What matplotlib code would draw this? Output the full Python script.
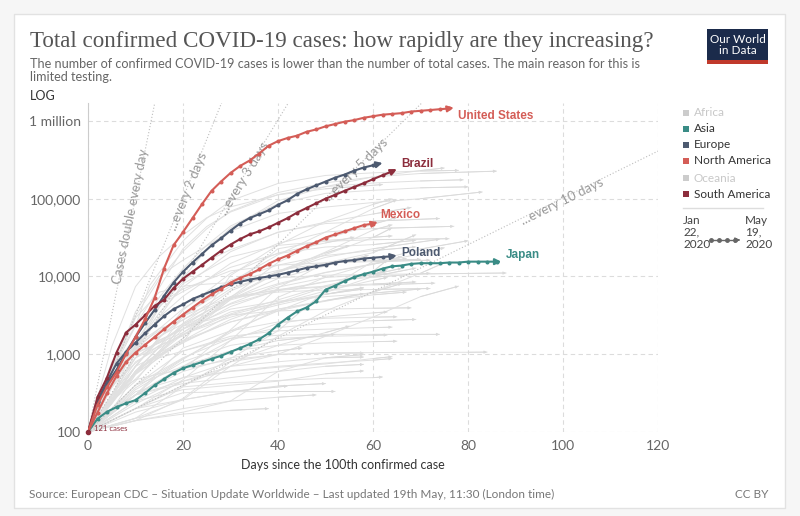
import numpy as np
import matplotlib
matplotlib.use("Agg")
import matplotlib.pyplot as plt
from matplotlib.patches import Rectangle
from matplotlib.lines import Line2D
from matplotlib.ticker import NullLocator

plt.rcParams['font.family'] = ['Lato', 'DejaVu Sans']

# --- highlighted countries (days since 100th case, confirmed cases) ---
us_days = list(range(0, 77, 2)) + [77]
us_cases = [100, 224, 380, 589, 1000, 1660, 2820, 5250, 12600, 25100, 37200, 56200,
            85100, 126000, 166000, 214000, 263000, 309000, 380000, 479000, 550000,
            603000, 646000, 724000, 776000, 851000, 912000, 977000, 1023000, 1096000,
            1148000, 1202000, 1230000, 1259000, 1318000, 1349000, 1380000, 1413000,
            1445000, 1479000]

brazil_days = list(range(0, 65, 2)) + [65]
brazil_cases = [100, 282, 501, 1050, 1900, 2400, 3160, 4170, 5010, 7080, 9330, 11500,
                14100, 17400, 21400, 25700, 30200, 34700, 38000, 42700, 49000, 56200,
                66100, 75900, 87100, 100000, 112000, 126000, 141000, 158000, 178000,
                200000, 224000, 240000]

russia_days = list(range(0, 63, 2))
russia_cases = [100, 240, 417, 631, 1050, 1660, 2510, 3720, 5620, 8320, 11500, 15100,
                19500, 25100, 30900, 38900, 47900, 56200, 63100, 70800, 83200, 95500,
                115000, 132000, 148000, 166000, 186000, 204000, 229000, 251000, 269000,
                288000]

mexico_days = list(range(0, 61, 2)) + [61]
mexico_cases = [100, 178, 316, 525, 794, 1050, 1320, 1660, 2090, 2630, 3240, 3980, 4900,
                5890, 6920, 8320, 9550, 10700, 12300, 14500, 16600, 18600, 21400, 24500,
                27500, 31600, 34700, 38000, 41700, 45700, 47900, 50100]

poland_days = list(range(0, 65, 2)) + [65]
poland_cases = [100, 251, 447, 759, 1070, 1410, 1860, 2400, 3090, 3800, 4370, 5130, 5750,
                6460, 7240, 7940, 8510, 9120, 9550, 10000, 10500, 11200, 12000, 12900,
                13500, 14100, 15100, 15800, 16200, 17000, 17400, 17800, 18200, 18600]

japan_days = list(range(0, 87, 2)) + [87]
japan_cases = [100, 148, 182, 209, 234, 257, 316, 398, 479, 575, 661, 724, 794, 871, 955,
               1070, 1200, 1350, 1550, 1860, 2400, 2950, 3550, 3980, 4790, 6760, 7590,
               8710, 9770, 10700, 11500, 12600, 13500, 13800, 14500, 14800, 14800, 14800,
               15100, 15100, 15500, 15500, 15500, 15500, 15500]

# --- other countries (grey background lines) ---
grey_days = [
    [0, 5, 10, 15, 20, 25, 30, 40, 50, 60, 70, 86],
    [0, 5, 10, 13, 15, 20, 25, 30, 40, 50, 60, 70, 78],
    [0, 5, 10, 15, 20, 25, 30, 40, 50, 60, 70, 75],
    [0, 5, 10, 15, 20, 25, 30, 40, 50, 60, 70, 79],
    [0, 5, 10, 15, 20, 25, 30, 40, 50, 60, 70, 80],
    [0, 5, 10, 15, 20, 25, 30, 40, 50, 60, 70, 83],
    [0, 5, 10, 15, 20, 25, 30, 40, 50, 62],
    [0, 5, 10, 15, 20, 25, 30, 40, 50, 60, 68],
    [0, 5, 10, 15, 20, 30, 40, 50, 60, 65],
    [0, 5, 10, 15, 20, 30, 40, 50, 60, 64],
    [0, 5, 10, 15, 20, 30, 40, 50, 60, 65],
    [0, 5, 10, 15, 20, 30, 40, 50, 60, 74],
    [0, 5, 10, 15, 20, 30, 40, 50, 60, 77],
    [0, 5, 10, 15, 20, 30, 40, 50, 60, 64],
    [0, 5, 10, 15, 20, 30, 40, 50, 60, 64],
    [0, 5, 10, 15, 20, 30, 40, 50, 60, 69],
    [0, 5, 10, 15, 20, 30, 40, 50, 60, 76],
    [0, 5, 10, 15, 20, 30, 40, 50, 60, 64],
    [0, 5, 10, 15, 20, 30, 40, 50, 60, 74],
    [0, 5, 10, 15, 20, 30, 40, 50, 60, 69],
    [0, 10, 20, 30, 40, 50, 60, 70, 80],
    [0, 5, 10, 15, 20, 25, 30, 40, 50, 60, 70, 88],
    [0, 5, 10, 15, 20, 30, 40, 50, 60, 69],
    [0, 5, 10, 15, 20, 30, 40, 50, 60, 70],
    [0, 5, 10, 15, 20, 30, 40, 50, 60, 72],
    [0, 5, 10, 15, 20, 30, 40, 50, 60, 67],
    [0, 5, 10, 15, 20, 30, 40, 50, 60, 72],
    [0, 5, 10, 15, 20, 30, 40, 50, 60, 73],
    [0, 5, 10, 15, 20, 30, 40, 50, 60, 69],
    [0, 5, 10, 15, 20, 30, 40, 50, 60, 72],
    [0, 5, 10, 15, 20, 30, 40, 50, 60, 70],
    [0, 5, 10, 15, 20, 30, 40, 50, 60, 66],
    [0, 5, 10, 15, 20, 30, 40, 50, 60, 66],
    [0, 5, 10, 15, 20, 30, 40, 50, 60, 69],
    [0, 5, 10, 15, 20, 30, 40, 50, 60, 66],
    [0, 5, 10, 15, 20, 30, 40, 50, 60, 74],
    [0, 10, 20, 30, 40, 50, 60, 69],
    [0, 10, 20, 30, 40, 50, 60, 67],
    [0, 10, 20, 30, 40, 50, 60, 68],
    [0, 10, 20, 30, 40, 50, 60, 65],
    [0, 10, 20, 30, 40, 50, 60, 65],
    [0, 10, 20, 30, 40, 50, 60, 63],
    [0, 10, 20, 30, 40, 50, 58],
    [0, 10, 20, 30, 40, 50, 60, 64],
    [0, 10, 20, 30, 40, 50, 58],
    [0, 10, 20, 30, 40, 50, 60, 62],
    [0, 10, 20, 30, 40, 50, 58],
    [0, 10, 20, 30, 40, 50, 58],
    [0, 10, 20, 30, 40, 50, 60, 64],
    [0, 10, 20, 30, 40, 50, 58],
    [0, 10, 20, 30, 40, 52],
    [0, 10, 20, 30, 40, 50, 60, 70, 78],
    [0, 10, 20, 30, 40, 50, 60, 70, 75],
    [0, 10, 20, 30, 40, 50, 60, 70, 75],
    [0, 10, 20, 30, 40, 50, 60, 63],
    [0, 10, 20, 30, 40, 50, 60, 63],
    [0, 10, 20, 30, 40, 50, 60, 63],
    [0, 10, 20, 30, 40, 50, 60, 63],
    [0, 10, 20, 30, 40, 50, 60, 64],
    [0, 10, 20, 30, 40, 50, 60, 63],
    [0, 10, 20, 30, 40, 50, 55],
    [0, 10, 20, 30, 40, 50, 56],
    [0, 10, 20, 30, 40, 50, 59],
    [0, 10, 20, 30, 40, 50, 58],
    [0, 10, 20, 30, 40, 50, 58],
    [0, 10, 20, 30, 40, 50, 58],
    [0, 10, 20, 30, 40, 50, 60, 70, 80, 84],
    [0, 10, 20, 30, 40, 50],
    [0, 10, 20, 30, 40, 48],
    [0, 10, 20, 30, 40, 45],
    [0, 10, 20, 30, 38],
    [0, 10, 20, 30, 40, 50, 55],
    [0, 10, 20, 30, 42],
    [0, 10, 20, 30, 40, 52],
]
grey_cases = [
    [100, 650, 3100, 9200, 21000, 41000, 69000, 120000, 160000, 190000, 211000, 226000],
    [100, 590, 2300, 7700, 11200, 28600, 56000, 94000, 157000, 199000, 215000, 227000, 231000],
    [100, 460, 1140, 3980, 9530, 22100, 41900, 93900, 143000, 191000, 230000, 248000],
    [100, 670, 2370, 7160, 22700, 43900, 67400, 113000, 143000, 159000, 169000, 175000],
    [100, 420, 1780, 5380, 12600, 25200, 44500, 86300, 117000, 128000, 138000, 142000],
    [100, 590, 3510, 10100, 16200, 24800, 38300, 64600, 78000, 89300, 100000, 122000],
    [100, 1250, 7400, 18100, 34100, 57000, 78500, 112000, 134000, 152000],
    [100, 420, 1430, 4040, 8530, 15800, 22100, 36800, 50000, 63500, 77000],
    [100, 230, 610, 1250, 3080, 8450, 19000, 37300, 74300, 96200],
    [100, 260, 480, 950, 1410, 10300, 25300, 51200, 84500, 99500],
    [100, 390, 770, 1300, 1720, 5370, 15100, 30300, 46900, 57300],
    [100, 400, 1240, 3400, 7280, 20800, 37200, 47900, 51400, 55600],
    [100, 380, 1140, 3000, 5560, 14700, 26600, 37200, 41300, 44100],
    [100, 430, 1140, 2140, 2740, 6930, 11300, 20600, 39500, 46100],
    [100, 650, 1180, 1700, 2450, 5230, 11200, 19100, 31700, 42100],
    [100, 300, 470, 560, 630, 2060, 7140, 14900, 20200, 34400],
    [100, 500, 1140, 3000, 8060, 17800, 25100, 28300, 29700, 30600],
    [100, 260, 1050, 1900, 3160, 7470, 22700, 29100, 31900, 33200],
    [100, 460, 1020, 1400, 2300, 5470, 11400, 17600, 22700, 30100],
    [100, 450, 1280, 4270, 6400, 13100, 19700, 23900, 25700, 29200],
    [100, 150, 385, 880, 2000, 6600, 15600, 22500, 28800],
    [100, 600, 2930, 6280, 7510, 7980, 8320, 9580, 10380, 10650, 10780, 11080],
    [100, 290, 1330, 2120, 3850, 8930, 14000, 18600, 21500, 24000],
    [100, 250, 700, 1650, 3030, 8430, 12000, 14900, 16100, 16600],
    [100, 660, 1650, 4470, 6900, 11800, 14000, 15000, 15500, 16200],
    [100, 260, 580, 1030, 2110, 5200, 8070, 11300, 14500, 17000],
    [100, 800, 1050, 1400, 1900, 4100, 6700, 8600, 9800, 11000],
    [100, 700, 1250, 2000, 3100, 5500, 6600, 7400, 7800, 8200],
    [100, 300, 700, 1650, 2800, 5300, 6800, 7500, 8000, 8500],
    [100, 250, 450, 1080, 2400, 5300, 6300, 6700, 6800, 7000],
    [100, 240, 700, 1520, 2100, 3800, 4800, 5500, 6100, 6900],
    [100, 190, 550, 1100, 2300, 4400, 6600, 8500, 10600, 12700],
    [100, 370, 900, 1500, 2100, 4500, 7800, 11200, 14300, 18000],
    [100, 200, 300, 540, 860, 2000, 3600, 6200, 10000, 12800],
    [100, 270, 590, 1050, 1450, 2600, 3800, 4800, 6300, 8100],
    [100, 250, 570, 900, 1100, 1600, 1750, 1800, 1800, 1800],
    [100, 400, 900, 1600, 2200, 2500, 2700, 2800],
    [100, 370, 880, 1900, 3800, 4900, 5800, 6300],
    [100, 900, 2300, 3200, 3600, 3800, 3900, 3950],
    [100, 300, 1200, 2000, 2600, 2900, 3000, 3030],
    [100, 300, 700, 1100, 1300, 1400, 1450, 1470],
    [100, 350, 800, 1300, 1600, 1700, 1750, 1770],
    [100, 300, 420, 500, 600, 700, 740],
    [100, 330, 500, 600, 680, 750, 880, 930],
    [100, 230, 450, 700, 800, 900, 920],
    [100, 200, 380, 430, 460, 490, 500, 510],
    [100, 250, 350, 400, 450, 560, 610],
    [100, 140, 180, 250, 600, 900, 990],
    [100, 300, 450, 610, 700, 770, 840, 880],
    [100, 300, 650, 850, 990, 1030, 1040],
    [100, 200, 320, 330, 332, 332],
    [100, 200, 400, 700, 1000, 1700, 3000, 5500, 7500],
    [100, 150, 260, 700, 1700, 3600, 6300, 11000, 15000],
    [100, 200, 470, 1500, 5400, 9800, 14700, 19600, 23400],
    [100, 800, 1800, 3500, 4500, 6500, 8900, 9700],
    [100, 900, 1800, 3300, 5000, 7600, 10600, 12300],
    [100, 700, 1400, 2800, 4600, 7300, 11600, 16300],
    [100, 600, 1900, 5000, 7300, 9700, 10600, 10800],
    [100, 400, 1100, 1700, 2000, 2100, 2200, 2230],
    [100, 300, 700, 1500, 2500, 3000, 3400, 3500],
    [100, 600, 2500, 6500, 11700, 20000, 25000],
    [100, 700, 3700, 11000, 20000, 27000, 32000],
    [100, 600, 1600, 5100, 9400, 13700, 18600],
    [100, 600, 1500, 2600, 3600, 4900, 6000],
    [100, 600, 1800, 3000, 4300, 5900, 7200],
    [100, 550, 1500, 3200, 4600, 5900, 6900],
    [100, 140, 270, 800, 1000, 1040, 1050, 1060, 1060, 1065],
    [100, 180, 260, 330, 390, 420],
    [100, 150, 200, 250, 280, 300],
    [100, 300, 600, 900, 1100, 1200],
    [100, 140, 170, 190, 200],
    [100, 250, 500, 800, 1300, 1900, 2300],
    [100, 200, 260, 330, 390],
    [100, 400, 700, 1100, 1500, 1800],
]

doubling_days = [1, 2, 3, 5, 10]
doubling_labels = ["Cases double every day", "...every 2 days", "...every 3 days",
                   "...every 5 days", "...every 10 days"]
doubling_label_pos = [(9.0, 59000), (21.0, 126000), (33.0, 182000), (56.4, 240000),
                      (99.8, 93000)]

legend_names = ["Africa", "Asia", "Europe", "North America", "Oceania", "South America"]
legend_active = [False, True, True, True, False, True]

RED = '#d45d57'
MAROON = '#8c2d3c'
SLATE = '#4d5a70'
TEAL = '#3a8c86'
legend_colors = ['#cccccc', TEAL, SLATE, RED, '#cccccc', MAROON]

W, H = 800, 516
fig = plt.figure(figsize=(W / 100, H / 100), dpi=100, facecolor='#f6f6f6')


def fx(px):
    return px / W


def fy(py):
    return 1 - py / H


# white card
fig.add_artist(Rectangle((fx(14), fy(508)), fx(771), (494) / H, transform=fig.transFigure,
                         facecolor='white', edgecolor='#e2e2e2', lw=1, zorder=0))

ax = fig.add_axes([fx(88), fy(432), fx(570), (432 - 103) / H])
ax.set_facecolor('none')
ax.set_yscale('log')
ax.set_xlim(0, 120)
ax.set_ylim(100, 1.7e6)
ax.set_yticks([100, 1e3, 1e4, 1e5, 1e6])
ax.set_yticklabels(['100', '1,000', '10,000', '100,000', '1 million'])
ax.yaxis.set_minor_locator(NullLocator())
ax.set_xticks([0, 20, 40, 60, 80, 100, 120])
ax.grid(True, ls=(0, (4, 3)), color='#dcdcdc', lw=0.8)
ax.set_axisbelow(True)
for s in ['top', 'right', 'bottom']:
    ax.spines[s].set_visible(False)
ax.spines['left'].set_color('#cccccc')
ax.tick_params(length=0, labelcolor='#666666', labelsize=10)
ax.tick_params(axis='y', pad=5)
ax.tick_params(axis='x', pad=6)

# grey lines
for d, c in zip(grey_days, grey_cases):
    ax.plot(d, c, color='#e0e0e0', lw=0.7, zorder=2)
    ax.annotate('', xy=(d[-1], c[-1]), xytext=(d[-2], c[-2]),
                arrowprops=dict(arrowstyle='-|>', color='#dadada', lw=0.6,
                                mutation_scale=4, shrinkA=0, shrinkB=0), zorder=2)

# doubling reference lines
for n in doubling_days:
    xs = np.array([0, 120])
    ax.plot(xs, 100 * 2 ** (xs / n), ls=(0, (1, 1.8)), color='#bdbdbd', lw=0.8, zorder=3)

for n, lab, (lx, ly) in zip(doubling_days, doubling_labels, doubling_label_pos):
    p1 = ax.transData.transform((0, 100))
    p2 = ax.transData.transform((n, 200))
    ang = np.degrees(np.arctan2(p2[1] - p1[1], p2[0] - p1[0]))
    ax.text(lx, ly, lab, rotation=ang, rotation_mode='anchor', ha='center', va='center',
            fontsize=9.5, color='#9a9a9a', zorder=4)


def series(days, cases, color, label=None, off=(0, 0)):
    ax.plot(days[:-1], cases[:-1], color=color, lw=1.5, marker='o', ms=1.9, zorder=6)
    ax.annotate('', xy=(days[-1], cases[-1]), xytext=(days[-2], cases[-2]),
                arrowprops=dict(arrowstyle='-|>', color=color, lw=1.5, mutation_scale=9,
                                shrinkA=0, shrinkB=0), zorder=6)
    if label:
        ax.annotate(label, xy=(days[-1], cases[-1]), xytext=off, textcoords='offset points',
                    ha='left', va='center', fontsize=8.5, fontweight='bold', color=color,
                    family='Liberation Sans', zorder=7)


series(japan_days, japan_cases, TEAL, 'Japan', (3, 5))
series(poland_days, poland_cases, SLATE, 'Poland', (3, 2))
series(mexico_days, mexico_cases, RED, 'Mexico', (2, 5))
series(russia_days, russia_cases, SLATE)
series(brazil_days, brazil_cases, MAROON, 'Brazil', (3, 4))
series(us_days, us_cases, RED, 'United States', (3, -6))

ax.plot([0], [100], 'o', color=MAROON, ms=3, zorder=8, clip_on=False)
ax.text(1.2, 100, '121 cases', fontsize=5.5, color=MAROON, va='bottom', ha='left', zorder=8)

# titles
fig.text(fx(30), fy(42), 'Total confirmed COVID-19 cases: how rapidly are they increasing?',
         family='Liberation Serif', fontsize=16.6, color='#555555', va='center', ha='left')
fig.text(fx(30), fy(64), 'The number of confirmed COVID-19 cases is lower than the number of '
         'total cases. The main reason for this is', fontsize=9.1, color='#666666', va='center')
fig.text(fx(30), fy(77), 'limited testing.', fontsize=9.1, color='#666666', va='center')
fig.text(fx(30), fy(96), 'LOG', fontsize=9, color='#333333', va='center')

# logo
fig.add_artist(Rectangle((fx(707), fy(64)), fx(61), 35 / H, transform=fig.transFigure,
                         facecolor='#1b2b4b', edgecolor='none'))
fig.add_artist(Rectangle((fx(707), fy(64)), fx(61), 4 / H, transform=fig.transFigure,
                         facecolor='#c0392b', edgecolor='none'))
fig.text(fx(737.5), fy(45), 'Our World\nin Data', color='white', fontsize=8.5, ha='center',
         va='center', linespacing=1.0)

# axis label and footer
fig.text(fx(343), fy(465), 'Days since the 100th confirmed case', fontsize=9,
         color='#333333', ha='center', va='center')
fig.text(fx(29), fy(494), 'Source: European CDC \u2013 Situation Update Worldwide \u2013 Last '
         'updated 19th May, 11:30 (London time)', fontsize=8.5, color='#777777', va='center')
fig.text(fx(768), fy(494), 'CC BY', fontsize=8.5, color='#777777', va='center', ha='right')

# legend
leg_y = [113, 129, 145, 161, 178, 194]
for name, act, col, y in zip(legend_names, legend_active, legend_colors, leg_y):
    fig.add_artist(Rectangle((fx(683), fy(y + 3)), fx(6), 6 / H, transform=fig.transFigure,
                             facecolor=col, edgecolor='none'))
    fig.text(fx(694), fy(y), name, fontsize=8.5, va='center',
             color='#333333' if act else '#c8c8c8')
fig.add_artist(Line2D([fx(683), fx(763)], [fy(208), fy(208)], transform=fig.transFigure,
                      color='#dddddd', lw=1))
fig.text(fx(683), fy(215), 'Jan\n22,\n2020', fontsize=8.5, color='#444444', va='top',
         linespacing=1.1)
fig.text(fx(745), fy(215), 'May\n19,\n2020', fontsize=8.5, color='#444444', va='top',
         linespacing=1.1)
fig.add_artist(Line2D([fx(711), fx(719), fx(727), fx(735)], [fy(240)] * 4,
                      transform=fig.transFigure, color='#666666', lw=1, marker='o', ms=2.5))
fig.add_artist(matplotlib.patches.FancyArrowPatch((fx(735), fy(240)), (fx(743), fy(240)),
                                                  transform=fig.transFigure,
                                                  arrowstyle='-|>', mutation_scale=7,
                                                  color='#666666', lw=1))

fig.savefig('out.png', dpi=100, facecolor=fig.get_facecolor())
